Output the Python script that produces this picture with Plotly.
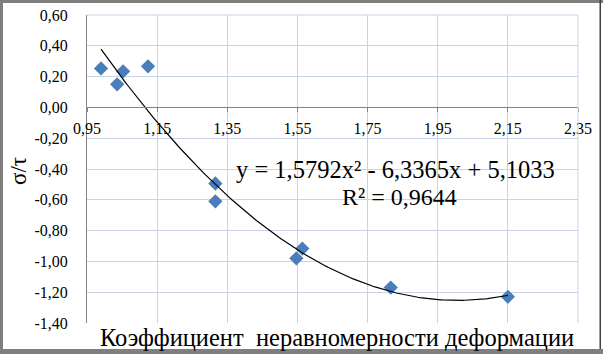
import numpy as np
import plotly.graph_objects as go

# Data
x_vals = [0.99, 1.036, 1.053, 1.124, 1.316, 1.316, 1.547, 1.564, 1.816, 2.15]
y_vals = [0.253, 0.15, 0.234, 0.267, -0.494, -0.61, -0.98, -0.917, -1.17, -1.23]

# Polynomial trendline coefficients shown on the chart (a2, a1, a0)
trend_coefs = [1.5792, -6.3365, 5.1033]
r_squared = "0,9644"

x_ticks = [0.95, 1.15, 1.35, 1.55, 1.75, 1.95, 2.15, 2.35]
x_ticktext = ["0,95", "1,15", "1,35", "1,55", "1,75", "1,95", "2,15", "2,35"]
y_ticks = [0.6, 0.4, 0.2, 0.0, -0.2, -0.4, -0.6, -0.8, -1.0, -1.2, -1.4]
y_ticktext = ["0,60", "0,40", "0,20", "0,00", "-0,20", "-0,40", "-0,60", "-0,80", "-1,00", "-1,20", "-1,40"]

x_title = "Коэффициент \u00a0неравномерности деформации"
y_title = "σ/τ"
eq_text = "y = 1,5792x² - 6,3365x + 5,1033"

W, H = 603, 354
L, R, T, B = 87, 25, 15, 31
pw, ph = W - L - R, H - T - B

def px(xp):
    return (xp - L) / pw

def py(yp):
    return (H - B - yp) / ph

xt = np.linspace(min(x_vals), max(x_vals), 200)
yt = np.polyval(trend_coefs, xt)

FONT = "Liberation Serif"
grid = "#c9d3e8"

fig = go.Figure()
fig.add_trace(go.Scatter(x=x_vals, y=y_vals, mode="markers",
                         marker=dict(symbol="diamond", size=11, color="#4a7ebb",
                                     line=dict(width=0)),
                         showlegend=False))
fig.add_trace(go.Scatter(x=xt, y=yt, mode="lines",
                         line=dict(color="#000000", width=1.2),
                         showlegend=False, hoverinfo="skip"))

fig.update_layout(
    width=W, height=H,
    margin=dict(l=L, r=R, t=T, b=B, pad=0, autoexpand=False),
    paper_bgcolor="white", plot_bgcolor="white",
    font=dict(family=FONT, color="#000000", size=16),
    xaxis=dict(range=[0.95, 2.35], tickvals=x_ticks, ticktext=x_ticktext,
               showgrid=True, gridcolor=grid, gridwidth=1,
               zeroline=False, showline=True, linecolor="#868686", linewidth=1,
               ticks="outside", ticklen=4, tickcolor="#868686",
               anchor="free", position=0.7, automargin=False,
               ticklabelstandoff=2,
               tickfont=dict(family=FONT, size=16, color="#000000")),
    yaxis=dict(range=[-1.4, 0.6], tickvals=y_ticks, ticktext=y_ticktext,
               showgrid=True, gridcolor=grid, gridwidth=1,
               zeroline=False, showline=True, linecolor="#868686", linewidth=1,
               ticks="", ticklabelstandoff=15, automargin=False,
               tickfont=dict(family=FONT, size=16, color="#000000")),
    showlegend=False,
)

# top / right plot border
fig.add_shape(type="line", xref="paper", yref="paper", x0=1, x1=1, y0=0, y1=1,
              line=dict(color=grid, width=1))
fig.add_shape(type="line", xref="paper", yref="paper", x0=0, x1=1, y0=1, y1=1,
              line=dict(color=grid, width=1))

# outer frame
frame = "#7f7f7f"
fig.add_shape(type="rect", xref="paper", yref="paper", x0=px(0), x1=px(W), y0=py(3), y1=py(0),
              fillcolor=frame, line=dict(width=0), layer="above")
fig.add_shape(type="rect", xref="paper", yref="paper", x0=px(0), x1=px(3), y0=py(H), y1=py(0),
              fillcolor=frame, line=dict(width=0), layer="above")
fig.add_shape(type="rect", xref="paper", yref="paper", x0=px(0), x1=px(W), y0=py(H), y1=py(349),
              fillcolor=frame, line=dict(width=0), layer="above")
fig.add_shape(type="rect", xref="paper", yref="paper", x0=px(599.5), x1=px(601), y0=py(349), y1=py(0),
              fillcolor="#404040", line=dict(width=0), layer="above")

fig.add_annotation(xref="paper", yref="paper", x=px(18), y=py(171), text=y_title,
                   showarrow=False, xanchor="center", yanchor="middle", textangle=-90,
                   font=dict(family=FONT, size=23, color="#000000"))
fig.add_annotation(xref="paper", yref="paper", x=px(395), y=py(169), text=eq_text,
                   showarrow=False, xanchor="center", yanchor="middle",
                   font=dict(family=FONT, size=24.5, color="#000000"))
fig.add_annotation(xref="paper", yref="paper", x=px(399), y=py(197), text="R² = " + r_squared,
                   showarrow=False, xanchor="center", yanchor="middle",
                   font=dict(family=FONT, size=24, color="#000000"))
fig.add_annotation(xref="paper", yref="paper", x=px(337), y=py(337), text=x_title,
                   showarrow=False, xanchor="center", yanchor="middle",
                   font=dict(family=FONT, size=24.5, color="#000000"))

fig.write_html("out.html", config={"displayModeBar": False},
               post_script="document.body.style.margin='0';")
